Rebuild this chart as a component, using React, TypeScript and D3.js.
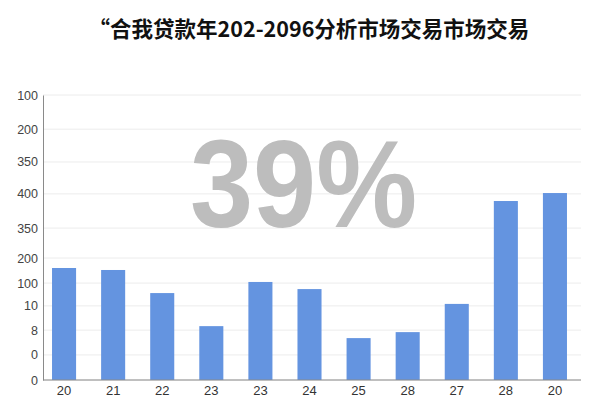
import * as React from 'react';
import * as d3 from 'd3';

const categories = ["20", "21", "22", "23", "23", "24", "25", "28", "27", "28", "20"];
const values = [39.3, 38.6, 30.5, 18.9, 34.4, 31.9, 14.7, 16.8, 26.7, 62.8, 65.6];
// y axis labels sit at uneven spots, so keep where each one goes in data units
const tickPositions = [0, 8.8, 17.5, 26, 34, 42.8, 53.3, 65.3, 76.5, 88, 100];
const tickLabels = ["0", "0", "8", "10", "100", "200", "350", "400", "350", "200", "100"];
const title = "“合我贷款年202-2096分析市场交易市场交易";
const bigLabel = "39%";

const width = 600;
const height = 400;
const margin = {top: 95, right: 19, bottom: 20, left: 43};

export default function App() {
    const ref = React.useRef<SVGSVGElement>(null);

    React.useEffect(() => {
        const svg = d3.select(ref.current);
        svg.selectAll("*").remove();

        const bottom = height - margin.bottom;
        const right = width - margin.right;

        const xScale = d3.scaleBand<number>()
            .domain(d3.range(categories.length))
            .range([40, 579])
            .paddingInner(0.51)
            .paddingOuter(0.245);

        const yScale = d3.scaleLinear()
            .domain([0, 100])
            .range([bottom, margin.top]);

        svg.append("text")
            .attr("x", 309)
            .attr("y", 37)
            .attr("text-anchor", "middle")
            .style("font-family", "'Noto Sans CJK SC', sans-serif")
            .style("font-weight", "bold")
            .style("font-size", "21.5px")
            .style("fill", "#111")
            .text(title);

        // grid
        svg.append("g")
            .selectAll("line")
            .data(tickPositions)
            .enter()
            .append("line")
            .attr("x1", margin.left)
            .attr("x2", right)
            .attr("y1", d => yScale(d))
            .attr("y2", d => yScale(d))
            .style("stroke", "#ececec")
            .style("stroke-width", 1);

        svg.append("text")
            .attr("x", 303.5)
            .attr("y", 227)
            .attr("text-anchor", "middle")
            .attr("textLength", 227)
            .attr("lengthAdjust", "spacingAndGlyphs")
            .style("font-family", "'Liberation Sans', Arial, sans-serif")
            .style("font-weight", "bold")
            .style("font-size", "124px")
            .style("fill", "#bdbdbd")
            .text(bigLabel);

        svg.append("g")
            .selectAll(".bar")
            .data(values)
            .enter()
            .append("rect")
            .attr("class", "bar")
            .attr("x", (d, i) => xScale(i))
            .attr("y", d => yScale(d))
            .attr("width", xScale.bandwidth())
            .attr("height", d => bottom - yScale(d))
            .style("fill", "#6494e0");

        const yAxis = d3.axisLeft(yScale)
            .tickValues(tickPositions)
            .tickFormat((d, i) => tickLabels[i])
            .tickSize(0)
            .tickPadding(5);
        const yg = svg.append("g")
            .attr("transform", "translate(" + margin.left + ",0)")
            .call(yAxis);
        yg.select(".domain").style("stroke", "#8a8a8a");
        yg.selectAll("text")
            .style("font-family", "'Liberation Sans', Arial, sans-serif")
            .style("font-size", "12.5px")
            .style("fill", "#444");

        const xAxis = d3.axisBottom(xScale)
            .tickFormat(i => categories[i])
            .tickSize(0)
            .tickPadding(6);
        const xg = svg.append("g")
            .attr("transform", "translate(0," + bottom + ")")
            .call(xAxis);
        xg.select(".domain").remove();
        xg.append("line")
            .attr("x1", margin.left)
            .attr("x2", right)
            .style("stroke", "#8a8a8a");
        xg.selectAll("text")
            .style("font-family", "'Liberation Sans', Arial, sans-serif")
            .style("font-size", "13px")
            .style("fill", "#333");
    }, []);

    return (
        <svg ref={ref} width={width} height={height}
             style={{position: "absolute", left: 0, top: 0, background: "#fff"}} />
    );
}
